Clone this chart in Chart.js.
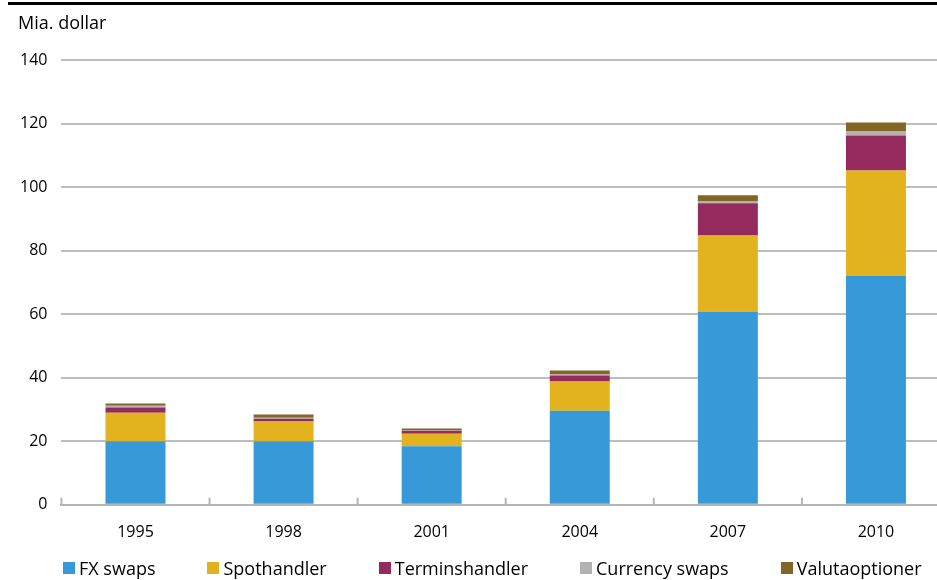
<!DOCTYPE html>
<html>
<head>
<meta charset="utf-8">
<script src="https://cdn.jsdelivr.net/npm/chart.js@4"></script>
<style>
  html, body { margin: 0; padding: 0; background: #fff; overflow: hidden; }
  #topline { position: absolute; left: 8px; top: 2px; width: 929px; height: 3px; background: #000; }
  #wrap { position: absolute; left: 0; top: 0; width: 950px; height: 580px; }
  #title { position: absolute; left: 18px; top: 12px; font-family: 'Open Sans'; font-size: 18px;
           line-height: 20px; color: #000; white-space: nowrap; }
  #legend { position: absolute; left: 63px; top: 558px; display: flex; gap: 52px;
            font-family: 'Open Sans'; font-size: 18px; color: #000; line-height: 20px; white-space: nowrap; }
  #legend .item { display: flex; align-items: center; }
  #legend .box { width: 12px; height: 12px; margin-right: 4px; }
</style>
</head>
<body>
<div id="wrap"><canvas id="chart"></canvas></div>
<div id="topline"></div>
<div id="title">Mia. dollar</div>
<div id="legend"></div>
<script>
const years = ['1995', '1998', '2001', '2004', '2007', '2010'];
const fxSwaps = [20, 20, 18.4, 29.6, 60.8, 72.1];
const spothandler = [9, 6.2, 4, 9.2, 24, 33.1];
const terminshandler = [1.6, 0.9, 0.9, 1.9, 10.1, 11];
const currencySwaps = [0.6, 0.3, 0.2, 0.3, 0.7, 1.3];
const valutaoptioner = [0.7, 1.0, 0.5, 1.3, 1.8, 2.8];
const yTicks = [0, 20, 40, 60, 80, 100, 120, 140];

const tickFont = { family: 'Open Sans', size: 16 };

// small upward tick marks between categories on the x axis
const catTicks = {
  id: 'catTicks',
  afterDraw(chart) {
    const x = chart.scales.x;
    const ctx = chart.ctx;
    const step = x.getPixelForValue(1) - x.getPixelForValue(0);
    const base = chart.chartArea.bottom;
    ctx.save();
    ctx.strokeStyle = '#b4b4b4';
    ctx.lineWidth = 2;
    for (let i = 0; i <= years.length; i++) {
      const px = x.getPixelForValue(0) - step / 2 + i * step;
      ctx.beginPath();
      ctx.moveTo(px, base - 7);
      ctx.lineTo(px, base);
      ctx.stroke();
    }
    ctx.restore();
  }
};

function ds(label, data, color) {
  return { label: label, data: data, backgroundColor: color, borderWidth: 0,
           barPercentage: 0.81, categoryPercentage: 0.5 };
}

const chart = new Chart(document.getElementById('chart'), {
  type: 'bar',
  data: {
    labels: years,
    datasets: [
      ds('FX swaps', fxSwaps, '#3899d8'),
      ds('Spothandler', spothandler, '#e2b21f'),
      ds('Terminshandler', terminshandler, '#952a5e'),
      ds('Currency swaps', currencySwaps, '#b2b2b2'),
      ds('Valutaoptioner', valutaoptioner, '#836525')
    ]
  },
  plugins: [catTicks],
  options: {
    responsive: true,
    maintainAspectRatio: false,
    animation: false,
    layout: { padding: { left: 6, right: 0, top: 60, bottom: 20 } },
    plugins: {
      title: { display: false },
      legend: { display: false },
      tooltip: { enabled: false }
    },
    scales: {
      x: {
        stacked: true,
        grid: { display: false, drawTicks: false },
        border: { display: true, color: '#b4b4b4', width: 2 },
        ticks: { color: '#000', font: tickFont, padding: 18 }
      },
      y: {
        stacked: true,
        min: 0, max: 140,
        afterBuildTicks(scale) { scale.ticks = yTicks.map(v => ({ value: v })); },
        grid: { color: '#bdbdbd', lineWidth: 2, drawTicks: false },
        border: { display: false },
        ticks: { color: '#000', font: tickFont, padding: 14 }
      }
    }
  }
});

// html legend built from the datasets
const legend = document.getElementById('legend');
chart.data.datasets.forEach(d => {
  const item = document.createElement('div');
  item.className = 'item';
  const box = document.createElement('span');
  box.className = 'box';
  box.style.background = d.backgroundColor;
  item.appendChild(box);
  item.appendChild(document.createTextNode(d.label));
  legend.appendChild(item);
});
</script>
</body>
</html>
